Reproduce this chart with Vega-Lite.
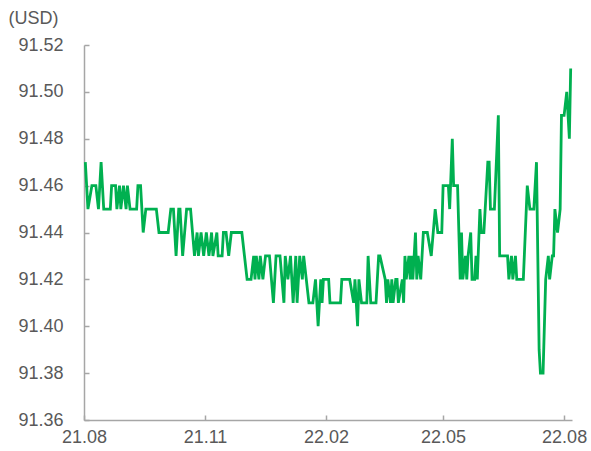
{
  "$schema": "https://vega.github.io/schema/vega-lite/v6.json",
  "width": 488,
  "height": 375,
  "autosize": {"type": "none"},
  "padding": {"left": 84, "top": 45, "right": 19, "bottom": 31},
  "background": "white",
  "config": {"view": {"stroke": null}, "font": "Liberation Sans"},
  "data": {"values": [
    {"date":"2021-08-02","v":91.47},{"date":"2021-08-04","v":91.45},{"date":"2021-08-07","v":91.46},{"date":"2021-08-10","v":91.46},
    {"date":"2021-08-12","v":91.45},{"date":"2021-08-14","v":91.47},{"date":"2021-08-16","v":91.45},{"date":"2021-08-21","v":91.45},
    {"date":"2021-08-22","v":91.46},{"date":"2021-08-25","v":91.46},{"date":"2021-08-26","v":91.45},{"date":"2021-08-28","v":91.46},
    {"date":"2021-08-29","v":91.45},{"date":"2021-08-31","v":91.46},{"date":"2021-09-02","v":91.45},{"date":"2021-09-03","v":91.46},
    {"date":"2021-09-05","v":91.45},{"date":"2021-09-10","v":91.45},{"date":"2021-09-11","v":91.46},{"date":"2021-09-13","v":91.46},
    {"date":"2021-09-15","v":91.44},{"date":"2021-09-17","v":91.45},{"date":"2021-09-25","v":91.45},{"date":"2021-09-27","v":91.44},
    {"date":"2021-10-04","v":91.44},{"date":"2021-10-06","v":91.45},{"date":"2021-10-08","v":91.45},{"date":"2021-10-10","v":91.43},
    {"date":"2021-10-12","v":91.45},{"date":"2021-10-13","v":91.45},{"date":"2021-10-15","v":91.43},{"date":"2021-10-18","v":91.45},
    {"date":"2021-10-21","v":91.45},{"date":"2021-10-24","v":91.43},{"date":"2021-10-26","v":91.44},{"date":"2021-10-27","v":91.43},
    {"date":"2021-10-29","v":91.44},{"date":"2021-10-31","v":91.43},{"date":"2021-11-02","v":91.44},{"date":"2021-11-04","v":91.43},
    {"date":"2021-11-06","v":91.44},{"date":"2021-11-07","v":91.43},{"date":"2021-11-10","v":91.44},{"date":"2021-11-11","v":91.43},
    {"date":"2021-11-14","v":91.43},{"date":"2021-11-15","v":91.44},{"date":"2021-11-17","v":91.44},{"date":"2021-11-19","v":91.43},
    {"date":"2021-11-21","v":91.44},{"date":"2021-11-29","v":91.44},{"date":"2021-12-03","v":91.42},{"date":"2021-12-06","v":91.42},
    {"date":"2021-12-08","v":91.43},{"date":"2021-12-09","v":91.42},{"date":"2021-12-10","v":91.43},{"date":"2021-12-12","v":91.42},
    {"date":"2021-12-13","v":91.43},{"date":"2021-12-15","v":91.42},{"date":"2021-12-17","v":91.43},{"date":"2021-12-20","v":91.43},
    {"date":"2021-12-23","v":91.41},{"date":"2021-12-25","v":91.43},{"date":"2021-12-28","v":91.43},{"date":"2021-12-31","v":91.41},
    {"date":"2022-01-01","v":91.43},{"date":"2022-01-03","v":91.42},{"date":"2022-01-05","v":91.43},{"date":"2022-01-07","v":91.41},
    {"date":"2022-01-09","v":91.43},{"date":"2022-01-10","v":91.41},{"date":"2022-01-12","v":91.43},{"date":"2022-01-14","v":91.42},
    {"date":"2022-01-15","v":91.43},{"date":"2022-01-17","v":91.42},{"date":"2022-01-19","v":91.41},{"date":"2022-01-22","v":91.41},
    {"date":"2022-01-24","v":91.42},{"date":"2022-01-26","v":91.40},{"date":"2022-01-28","v":91.42},{"date":"2022-01-29","v":91.41},
    {"date":"2022-01-30","v":91.42},{"date":"2022-02-03","v":91.42},{"date":"2022-02-04","v":91.41},{"date":"2022-02-12","v":91.41},
    {"date":"2022-02-13","v":91.42},{"date":"2022-02-19","v":91.42},{"date":"2022-02-22","v":91.41},{"date":"2022-02-23","v":91.42},
    {"date":"2022-02-25","v":91.40},{"date":"2022-02-26","v":91.42},{"date":"2022-02-28","v":91.41},{"date":"2022-03-04","v":91.41},
    {"date":"2022-03-05","v":91.43},{"date":"2022-03-07","v":91.41},{"date":"2022-03-11","v":91.41},{"date":"2022-03-13","v":91.43},
    {"date":"2022-03-14","v":91.43},{"date":"2022-03-18","v":91.42},{"date":"2022-03-19","v":91.41},{"date":"2022-03-20","v":91.42},
    {"date":"2022-03-22","v":91.41},{"date":"2022-03-23","v":91.42},{"date":"2022-03-24","v":91.41},{"date":"2022-03-26","v":91.42},
    {"date":"2022-03-27","v":91.42},{"date":"2022-03-28","v":91.41},{"date":"2022-03-31","v":91.42},{"date":"2022-04-01","v":91.41},
    {"date":"2022-04-02","v":91.43},{"date":"2022-04-03","v":91.42},{"date":"2022-04-05","v":91.43},{"date":"2022-04-06","v":91.42},
    {"date":"2022-04-07","v":91.43},{"date":"2022-04-08","v":91.42},{"date":"2022-04-10","v":91.44},{"date":"2022-04-11","v":91.42},
    {"date":"2022-04-12","v":91.43},{"date":"2022-04-14","v":91.42},{"date":"2022-04-16","v":91.44},{"date":"2022-04-19","v":91.44},
    {"date":"2022-04-22","v":91.43},{"date":"2022-04-25","v":91.45},{"date":"2022-04-27","v":91.44},{"date":"2022-04-30","v":91.44},
    {"date":"2022-05-01","v":91.46},{"date":"2022-05-05","v":91.46},{"date":"2022-05-06","v":91.45},{"date":"2022-05-08","v":91.48},
    {"date":"2022-05-09","v":91.46},{"date":"2022-05-12","v":91.46},{"date":"2022-05-14","v":91.42},{"date":"2022-05-15","v":91.44},
    {"date":"2022-05-16","v":91.42},{"date":"2022-05-18","v":91.43},{"date":"2022-05-19","v":91.42},{"date":"2022-05-20","v":91.43},
    {"date":"2022-05-22","v":91.44},{"date":"2022-05-23","v":91.42},{"date":"2022-05-25","v":91.42},{"date":"2022-05-26","v":91.43},
    {"date":"2022-05-27","v":91.42},{"date":"2022-05-29","v":91.45},{"date":"2022-05-30","v":91.44},{"date":"2022-06-01","v":91.44},
    {"date":"2022-06-04","v":91.47},{"date":"2022-06-05","v":91.47},{"date":"2022-06-06","v":91.45},{"date":"2022-06-09","v":91.45},
    {"date":"2022-06-12","v":91.49},{"date":"2022-06-13","v":91.43},{"date":"2022-06-19","v":91.43},{"date":"2022-06-20","v":91.42},
    {"date":"2022-06-22","v":91.43},{"date":"2022-06-23","v":91.42},{"date":"2022-06-25","v":91.43},{"date":"2022-06-26","v":91.42},
    {"date":"2022-07-01","v":91.42},{"date":"2022-07-04","v":91.46},{"date":"2022-07-06","v":91.45},{"date":"2022-07-09","v":91.45},
    {"date":"2022-07-11","v":91.47},{"date":"2022-07-13","v":91.39},{"date":"2022-07-14","v":91.38},{"date":"2022-07-16","v":91.38},
    {"date":"2022-07-18","v":91.42},{"date":"2022-07-20","v":91.43},{"date":"2022-07-21","v":91.42},{"date":"2022-07-23","v":91.43},
    {"date":"2022-07-24","v":91.43},{"date":"2022-07-25","v":91.45},{"date":"2022-07-27","v":91.44},{"date":"2022-07-29","v":91.45},
    {"date":"2022-07-30","v":91.49},{"date":"2022-08-01","v":91.49},{"date":"2022-08-03","v":91.50},{"date":"2022-08-05","v":91.48},
    {"date":"2022-08-06","v":91.51}
  ]},
  "mark": {"type": "line", "color": "#00b050", "strokeWidth": 2.8, "clip": false},
  "encoding": {
    "x": {
      "field": "date", "type": "temporal",
      "scale": {"type": "utc", "domain": [{"year": 2021, "month": 8, "date": 1, "utc": true}, {"year": 2022, "month": 8, "date": 7, "utc": true}]},
      "axis": {
        "title": null,
        "labelExpr": "utcFormat(datum.value, '%y.%m')",
        "values": [
          {"year": 2021, "month": 8, "date": 1, "utc": true},
          {"year": 2021, "month": 11, "date": 1, "utc": true},
          {"year": 2022, "month": 2, "date": 1, "utc": true},
          {"year": 2022, "month": 5, "date": 1, "utc": true},
          {"year": 2022, "month": 8, "date": 1, "utc": true}
        ],
        "grid": false, "domainColor": "#a6a6a6", "domainWidth": 1.5,
        "tickColor": "#a6a6a6", "tickWidth": 1.5, "tickSize": -5,
        "labelPadding": 13, "labelFontSize": 18, "labelColor": "#595959",
        "labelFlush": false, "labelOverlap": false
      }
    },
    "y": {
      "field": "v", "type": "quantitative",
      "scale": {"domain": [91.36, 91.52], "zero": false, "nice": false},
      "axis": {
        "title": "(USD)", "titleAngle": 0, "titleAlign": "left", "titleBaseline": "middle",
        "titleX": -76, "titleY": -27, "titleFontSize": 18, "titleFontWeight": "normal", "titleColor": "#595959",
        "values": [91.36, 91.38, 91.40, 91.42, 91.44, 91.46, 91.48, 91.50, 91.52],
        "format": ".2f", "grid": false, "domainColor": "#a6a6a6", "domainWidth": 1.5,
        "tickColor": "#a6a6a6", "tickWidth": 1.5, "tickSize": -5,
        "labelPadding": 26, "labelFontSize": 18, "labelColor": "#595959",
        "labelFlush": false, "labelOverlap": false
      }
    }
  }
}
